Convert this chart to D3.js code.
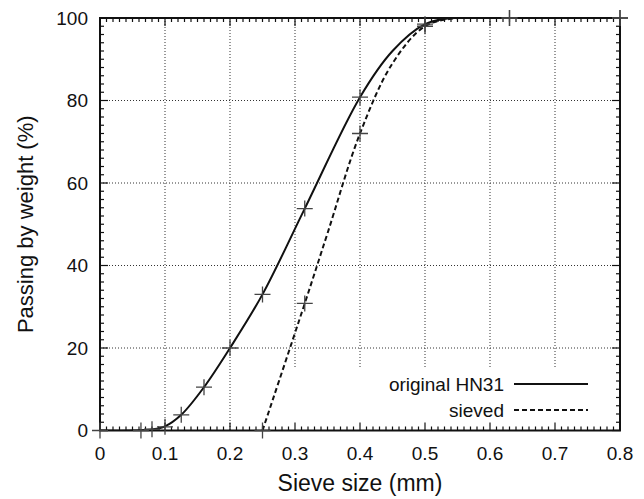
<!DOCTYPE html>
<html lang="en">
<head>
    <meta charset="UTF-8">
    <title>Sieve curves</title>
    <script src="https://d3js.org/d3.v7.min.js"></script>
    <style>
        body { margin: 0; background: #fff; }
        text { font-family: "Liberation Sans", Arial, Helvetica, sans-serif; fill: #111; }
    </style>
</head>
<body>

<svg width="644" height="499"></svg>
<script>

    // measured sieve points (mm, % passing)
    var origX = [0, 0.063, 0.08, 0.1, 0.125, 0.16, 0.2, 0.25, 0.315, 0.4, 0.5, 0.63, 0.8];
    var origY = [0, 0, 0.3, 0.9, 3.8, 10.5, 20, 33, 53.8, 80.8, 98.5, 100, 100];
    var sievedX = [0.25, 0.315, 0.4, 0.5, 0.63, 0.8];
    var sievedY = [0, 30.8, 72, 98, 100, 100];

    // smooth curves
    var origCurveX = [0, 0.05, 0.08, 0.1, 0.125, 0.16, 0.2, 0.25, 0.315, 0.4, 0.45, 0.5, 0.54, 0.6, 0.8];
    var origCurveY = [0, 0, 0.25, 1, 3.8, 10.5, 20, 33, 53.8, 80.8, 92, 98.5, 100, 100, 100];
    var sievedCurveX = [0.25, 0.315, 0.35, 0.4, 0.45, 0.5, 0.55, 0.6, 0.8];
    var sievedCurveY = [0, 30.8, 47.8, 72, 89, 98, 100, 100, 100];

    var xTicks = [0, 0.1, 0.2, 0.3, 0.4, 0.5, 0.6, 0.7, 0.8];
    var xTickLabels = ["0", "0.1", "0.2", "0.3", "0.4", "0.5", "0.6", "0.7", "0.8"];
    var yTicks = [0, 20, 40, 60, 80, 100];
    var yTickLabels = ["0", "20", "40", "60", "80", "100"];

    var legendNames = ["original HN31", "sieved"];

    var svg = d3.select("svg"),
        mLeft = 100, mRight = 620, mTop = 18, mBottom = 430.5;

    var x = d3.scaleLinear().domain([0, 0.8]).range([mLeft, mRight]);
    var y = d3.scaleLinear().domain([0, 100]).range([mBottom, mTop]);

    svg.append("clipPath").attr("id", "plotclip")
        .append("rect")
        .attr("x", mLeft).attr("y", mTop)
        .attr("width", mRight - mLeft).attr("height", mBottom - mTop);

    // grid
    var grid = svg.append("g")
        .attr("stroke", "#333")
        .attr("stroke-width", 1)
        .attr("stroke-dasharray", "1,2");
    grid.selectAll(".gx")
        .data(xTicks.slice(1, -1))
        .enter().append("line")
        .attr("x1", function (d) { return x(d); })
        .attr("x2", function (d) { return x(d); })
        .attr("y1", mTop)
        .attr("y2", mBottom);
    grid.selectAll(".gy")
        .data(yTicks.slice(1, -1))
        .enter().append("line")
        .attr("x1", mLeft)
        .attr("x2", mRight)
        .attr("y1", function (d) { return y(d); })
        .attr("y2", function (d) { return y(d); });

    // key background hides the grid
    svg.append("rect")
        .attr("x", 275).attr("y", 368)
        .attr("width", mRight - 275).attr("height", mBottom - 368)
        .attr("fill", "#fff");

    // curves
    var line = d3.line()
        .x(function (d) { return x(d[0]); })
        .y(function (d) { return y(d[1]); })
        .curve(d3.curveCatmullRom.alpha(0.5));

    var curves = svg.append("g").attr("clip-path", "url(#plotclip)");

    curves.append("path")
        .datum(d3.zip(origCurveX, origCurveY))
        .attr("d", line)
        .attr("fill", "none")
        .attr("stroke", "#111")
        .attr("stroke-width", 2);

    curves.append("path")
        .datum(d3.zip(sievedCurveX, sievedCurveY))
        .attr("d", line)
        .attr("fill", "none")
        .attr("stroke", "#111")
        .attr("stroke-width", 2)
        .attr("stroke-dasharray", "5,3");

    // frame and ticks
    var axisG = svg.append("g").attr("stroke", "#111");
    axisG.append("rect")
        .attr("x", mLeft).attr("y", mTop)
        .attr("width", mRight - mLeft).attr("height", mBottom - mTop)
        .attr("fill", "none")
        .attr("stroke-width", 2);

    var xMinor = d3.range(0, 81).map(function (i) { return i / 100; });
    var yMinor = d3.range(0, 51).map(function (i) { return i * 2; });

    function tickLen(isMajor) { return isMajor ? 8 : 4; }

    xMinor.forEach(function (v, i) {
        var len = tickLen(i % 10 === 0);
        axisG.append("line").attr("x1", x(v)).attr("x2", x(v))
            .attr("y1", mBottom).attr("y2", mBottom - len).attr("stroke-width", 1.2);
        axisG.append("line").attr("x1", x(v)).attr("x2", x(v))
            .attr("y1", mTop).attr("y2", mTop + len).attr("stroke-width", 1.2);
    });
    yMinor.forEach(function (v, i) {
        var len = tickLen(i % 10 === 0);
        axisG.append("line").attr("y1", y(v)).attr("y2", y(v))
            .attr("x1", mLeft).attr("x2", mLeft + len).attr("stroke-width", 1.2);
        axisG.append("line").attr("y1", y(v)).attr("y2", y(v))
            .attr("x1", mRight).attr("x2", mRight - len).attr("stroke-width", 1.2);
    });

    // markers
    function plus(g, xs, ys) {
        g.selectAll("path")
            .data(d3.zip(xs, ys))
            .enter().append("path")
            .attr("d", function (d) {
                var cx = x(d[0]), cy = y(d[1]);
                return "M" + (cx - 8) + "," + cy + "H" + (cx + 8) +
                    "M" + cx + "," + (cy - 8) + "V" + (cy + 8);
            })
            .attr("stroke", "#444")
            .attr("stroke-width", 1.3)
            .attr("fill", "none");
    }
    plus(svg.append("g"), origX, origY);
    plus(svg.append("g"), sievedX, sievedY);

    // tick labels
    svg.append("g").selectAll("text")
        .data(xTicks)
        .enter().append("text")
        .attr("x", function (d) { return x(d); })
        .attr("y", 460)
        .attr("text-anchor", "middle")
        .attr("font-size", 19)
        .text(function (d, i) { return xTickLabels[i]; });

    svg.append("g").selectAll("text")
        .data(yTicks)
        .enter().append("text")
        .attr("x", 88)
        .attr("y", function (d) { return y(d); })
        .attr("dy", "0.35em")
        .attr("text-anchor", "end")
        .attr("font-size", 19)
        .text(function (d, i) { return yTickLabels[i]; });

    // axis titles
    svg.append("text")
        .attr("x", (mLeft + mRight) / 2)
        .attr("y", 491)
        .attr("text-anchor", "middle")
        .attr("font-size", 23)
        .text("Sieve size (mm)");

    svg.append("text")
        .attr("transform", "translate(33," + ((mTop + mBottom) / 2) + ") rotate(-90)")
        .attr("text-anchor", "middle")
        .attr("font-size", 22)
        .text("Passing by weight (%)");

    // key
    var key = svg.append("g");
    legendNames.forEach(function (name, i) {
        var ly = 384 + i * 26;
        key.append("text")
            .attr("x", 504)
            .attr("y", ly)
            .attr("dy", "0.35em")
            .attr("text-anchor", "end")
            .attr("font-size", 19)
            .text(name);
        key.append("line")
            .attr("x1", 514).attr("x2", 588)
            .attr("y1", ly).attr("y2", ly)
            .attr("stroke", "#111")
            .attr("stroke-width", 2)
            .attr("stroke-dasharray", i === 1 ? "5,3" : null);
    });

</script>

</body>
</html>
